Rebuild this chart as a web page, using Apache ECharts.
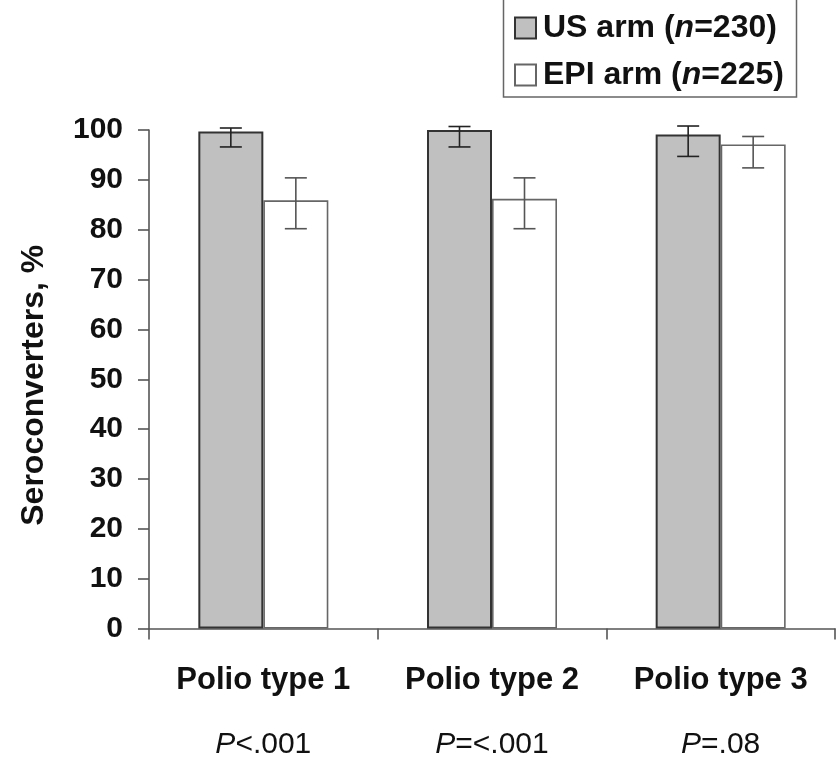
<!DOCTYPE html>
<html>
<head>
<meta charset="utf-8">
<style>
  html, body { margin: 0; padding: 0; background: #ffffff; }
  #chart { width: 839px; height: 760px; }
</style>
<script src="https://cdn.jsdelivr.net/npm/echarts@6/dist/echarts.min.js"></script>
</head>
<body>
<div id="chart"></div>
<script>
// Seroconversion by polio type, with 95% confidence intervals
const categories = ['Polio type 1', 'Polio type 2', 'Polio type 3'];
const pValues = ['<.001', '=<.001', '=.08'];

const usValues = [99.7, 100, 99.1];
const usLow = [96.6, 96.6, 94.7];
const usHigh = [100.4, 100.7, 100.8];

const epiValues = [85.9, 86.2, 97.1];
const epiLow = [80.2, 80.2, 92.4];
const epiHigh = [90.4, 90.4, 98.7];

const yTicks = { min: 0, max: 100, interval: 10 };

const FONT = "'Liberation Sans', Arial, sans-serif";
const BAR_W = 65;

const chart = echarts.init(document.getElementById('chart'), null, { renderer: 'canvas' });

// Error bars drawn beside each bar: offset = -half bar (US) or +half bar (EPI)
function errorSeries(name, low, high, offset, color) {
  return {
    type: 'custom',
    name: name,
    silent: true,
    z: 5,
    clip: false,
    data: low.map((l, i) => [i, l, high[i]]),
    encode: { x: 0, y: [1, 2] },
    renderItem: function (params, api) {
      const i = api.value(0);
      const lo = api.coord([i, api.value(1)]);
      const hi = api.coord([i, api.value(2)]);
      const x = lo[0] + offset;
      const cap = 11;
      const style = { stroke: color, lineWidth: 1.6, fill: null };
      return {
        type: 'group',
        children: [
          { type: 'line', shape: { x1: x, y1: lo[1], x2: x, y2: hi[1] }, style: style },
          { type: 'line', shape: { x1: x - cap, y1: lo[1], x2: x + cap, y2: lo[1] }, style: style },
          { type: 'line', shape: { x1: x - cap, y1: hi[1], x2: x + cap, y2: hi[1] }, style: style }
        ]
      };
    }
  };
}

const option = {
  backgroundColor: '#ffffff',
  animation: false,
  textStyle: { fontFamily: FONT },
  grid: { left: 149, right: 4, top: 130, bottom: 131, containLabel: false },
  graphic: [{
    type: 'rect',
    z: 0,
    shape: { x: 503.5, y: -5, width: 293, height: 102 },
    style: { fill: '#ffffff', stroke: '#666666', lineWidth: 1.5 }
  }],
  legend: {
    orient: 'vertical',
    left: 514,
    top: 12,
    padding: 0,
    itemGap: 15,
    itemWidth: 21,
    itemHeight: 21,
    icon: 'rect',
    data: ['US arm', 'EPI arm'],
    formatter: function (name) {
      return name === 'US arm' ? 'US arm ({i|n}=230)' : 'EPI arm ({i|n}=225)';
    },
    textStyle: {
      fontFamily: FONT,
      fontSize: 32,
      fontWeight: 'bold',
      color: '#111111',
      padding: [0, 0, 0, 2],
      rich: {
        i: { fontFamily: FONT, fontSize: 32, fontWeight: 'bold', fontStyle: 'italic', color: '#111111' }
      }
    }
  },
  xAxis: {
    type: 'category',
    data: categories,
    axisLine: { lineStyle: { color: '#555555', width: 1.6 } },
    axisTick: { show: true, length: 11, lineStyle: { color: '#555555', width: 1.6 } },
    axisLabel: {
      margin: 19,
      formatter: function (value, idx) {
        return '{b|' + value + '}\n{p|P}{r|' + pValues[idx] + '}';
      },
      rich: {
        b: { fontFamily: FONT, fontSize: 31, fontWeight: 'bold', color: '#111111', lineHeight: 65 },
        p: { fontFamily: FONT, fontSize: 30, fontStyle: 'italic', color: '#111111', lineHeight: 65 },
        r: { fontFamily: FONT, fontSize: 30, color: '#111111', lineHeight: 65 }
      }
    }
  },
  yAxis: {
    type: 'value',
    min: yTicks.min,
    max: yTicks.max,
    interval: yTicks.interval,
    name: 'Seroconverters, %',
    nameLocation: 'middle',
    nameGap: 99,
    nameTextStyle: {
      fontFamily: FONT, fontSize: 32, fontWeight: 'bold', color: '#111111',
      padding: [0, 12, 0, 0]
    },
    splitLine: { show: false },
    axisLine: { show: true, lineStyle: { color: '#555555', width: 1.6 } },
    axisTick: { show: true, length: 11, lineStyle: { color: '#555555', width: 1.6 } },
    axisLabel: { margin: 26, fontFamily: FONT, fontSize: 30, fontWeight: 'bold', color: '#111111' }
  },
  series: [
    {
      name: 'US arm',
      type: 'bar',
      data: usValues,
      barWidth: BAR_W,
      barGap: '0%',
      itemStyle: { color: '#c0c0c0', borderColor: '#333333', borderWidth: 2 }
    },
    {
      name: 'EPI arm',
      type: 'bar',
      data: epiValues,
      barWidth: BAR_W,
      barGap: '0%',
      itemStyle: { color: '#ffffff', borderColor: '#666666', borderWidth: 1.6 }
    },
    errorSeries('US arm CI', usLow, usHigh, -BAR_W / 2, '#222222'),
    errorSeries('EPI arm CI', epiLow, epiHigh, BAR_W / 2, '#555555')
  ]
};

chart.setOption(option);
</script>
</body>
</html>
